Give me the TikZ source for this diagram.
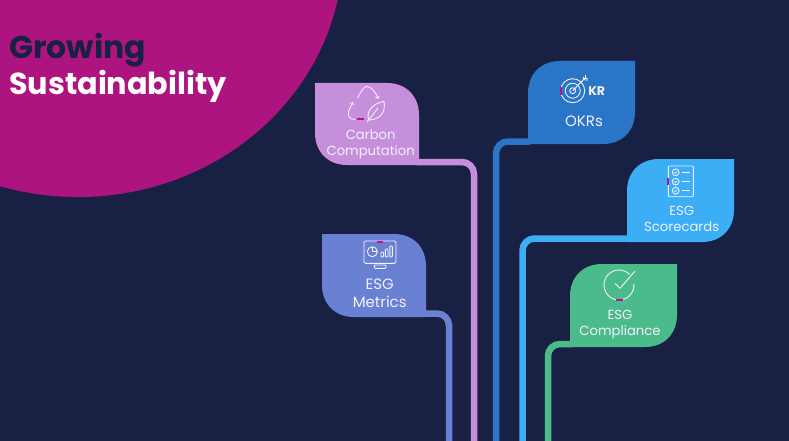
\documentclass[tikz,border=0pt]{standalone}
\usepackage{fontspec}
\setmainfont{Poppins}
\definecolor{bgnavy}{HTML}{182144}
\definecolor{magentaA}{HTML}{AE1480}
\definecolor{accentM}{HTML}{C4108C}
\definecolor{carbonC}{HTML}{C68FDC}
\definecolor{okrC}{HTML}{2A75C6}
\definecolor{scoreC}{HTML}{3BAEF5}
\definecolor{complyC}{HTML}{4CBB8C}
\definecolor{metricC}{HTML}{6A80D2}
\definecolor{inkW}{HTML}{F2F0FA}
\tikzset{
  wire/.style={line width=6.5pt,rounded corners=12pt},
  icon/.style={draw=inkW,line width=0.9pt,fill=none},
  accent/.style={draw=accentM,line width=2pt},
  leaftext/.style={text=inkW,align=center,font=\fontsize{13.2}{16}\selectfont\mdseries,inner sep=0pt},
  bigleaftext/.style={text=inkW,align=center,font=\fontsize{15}{18}\selectfont,inner sep=0pt},
  titletext/.style={anchor=base west,inner sep=0pt},
}
% left top right bottom: leaf with sharp top-left corner
\newcommand{\leafTL}[5]{\fill[#5] (#1,#2) -- (#3-32,#2) .. controls (#3-12,#2) and (#3,#2+14) .. (#3,#2+32)
  -- (#3,#4) -- (#1+32,#4) .. controls (#1+12,#4) and (#1,#4-14) .. (#1,#4-32) -- cycle;}
% leaf with sharp top-right corner
\newcommand{\leafTR}[5]{\fill[#5] (#3,#2) -- (#1+32,#2) .. controls (#1+12,#2) and (#1,#2+14) .. (#1,#2+32)
  -- (#1,#4) -- (#3-32,#4) .. controls (#3-12,#4) and (#3,#4-14) .. (#3,#4-32) -- cycle;}
\begin{document}
\begin{tikzpicture}[x=1pt,y=-1pt]
\fill[bgnavy,use as bounding box] (0,0) rectangle (789,441);
\begin{scope}
\clip (0,0) rectangle (789,441);
\fill[magentaA] (78,-50) ellipse [x radius=265pt,y radius=247pt];
\end{scope}
\node[titletext,text=bgnavy,font=\fontsize{31.5}{34}\selectfont\bfseries] (title1) at (9,59) {Growing};
\node[titletext,text=white,font=\fontsize{30.3}{34}\selectfont\bfseries] (title2) at (9,95) {Sustainability};

% anchors of connectors
\coordinate (cA) at (417,162); \coordinate (cAe) at (474,441);
\coordinate (cB) at (530,141.5); \coordinate (cBe) at (496,441);
\coordinate (cC) at (629,238.5); \coordinate (cCe) at (522.5,441);
\coordinate (cD) at (572,344); \coordinate (cDe) at (548,441);
\coordinate (cE) at (424,313.5); \coordinate (cEe) at (449,441);
\draw[wire,carbonC] (cA) -| (cAe);
\draw[wire,okrC] (cB) -| (cBe);
\draw[wire,scoreC] (cC) -| (cCe);
\draw[wire,complyC] (cD) -| (cDe);
\draw[wire,metricC] (cE) -| (cEe);

\leafTL{315}{83}{419}{165}{carbonC}
\leafTR{528}{61}{635}{144}{okrC}
\leafTR{627}{159}{734}{242}{scoreC}
\leafTR{570}{264}{677}{347}{complyC}
\leafTL{322}{234}{426}{317}{metricC}

% labels
\node[leaftext] (carbon) at (370.7,144) {Carbon\\Computation};
\node[bigleaftext] (okr) at (584,121) {OKRs};
\node[leaftext] (score) at (681.7,219) {ESG\\Scorecards};
\node[leaftext] (comply) at (620,325) {ESG\\Compliance};
\node[bigleaftext] (metric) at (379.7,293.3) {ESG\\Metrics};

% carbon icon
\draw[icon,->,>=to] (357.5,98) .. controls (361,91) and (364,86.5) .. (367,86.5) .. controls (371,86.5) and (376,92) .. (378,99);
\draw[icon,->,>=to] (355,119.5) .. controls (349,119.5) and (347,115) .. (349,110) -- (353,102);
\draw[accent] (356.5,119.3) -- (363.5,119.3);
\draw[icon] (368.5,120) .. controls (366,110) and (374,103) .. (384,101.5) .. controls (386,112) and (380,120) .. (368.5,120);
\draw[icon] (367,122) -- (378,108);

% okr icon
\draw[icon] (572.7,90.7) circle[radius=12pt];
\draw[icon] (572.7,90.7) circle[radius=7.5pt];
\draw[icon] (572.7,90.7) circle[radius=3pt];
\draw[icon,line width=1pt] (572.7,90.7) -- (585,78);
\draw[icon] (583,77) -- (585,80) -- (588,80);
\draw[icon] (585,75) -- (585,78) -- (588,78);
\draw[accent] (560.7,87) -- (560.7,95);
\node[text=inkW,inner sep=0pt,font=\fontsize{12.5}{14}\selectfont\bfseries] (kr) at (596.7,91.3) {KR};

% score icon
\draw[icon,rounded corners=1pt] (668.3,166) rectangle (693.3,196.7);
\foreach \yy in {172.3,181.7,190.7}{
  \draw[icon] (675.7,\yy) circle[radius=3.4pt];
  \draw[icon,line width=0.6pt] (674.2,\yy) -- (675.3,\yy+1.2) -- (677.3,\yy-1.2);
  \draw[icon] (681.7,\yy) -- (690,\yy);
}
\draw[accent] (668.3,178) -- (668.3,185);

% compliance icon
\draw[icon] (629.6,274.4) arc[start angle=45,end angle=365,radius=15pt];
\draw[icon] (615,283.3) -- (620,288.3) -- (635,271);
\draw[accent] (616,299.8) -- (622.7,299.8);

% metrics icon
\draw[icon,rounded corners=1.5pt] (364,241) rectangle (396,263.3);
\draw[icon,rounded corners=1pt] (374.3,265) rectangle (386,268.3);
\draw[accent] (376.7,241.5) -- (383.3,241.5);
\draw[icon] (372.3,251.7) circle[radius=5pt];
\draw[icon] (372.3,251.7) -- (372.3,246.7);
\draw[icon] (372.3,251.7) -- (377.3,251.7);
\draw[icon,rounded corners=0.8pt] (381,257) rectangle (383.6,252);
\draw[icon,rounded corners=0.8pt] (385.4,257) rectangle (388,249);
\draw[icon,rounded corners=0.8pt] (389.8,257) rectangle (392.4,246);
\end{tikzpicture}
\end{document}
